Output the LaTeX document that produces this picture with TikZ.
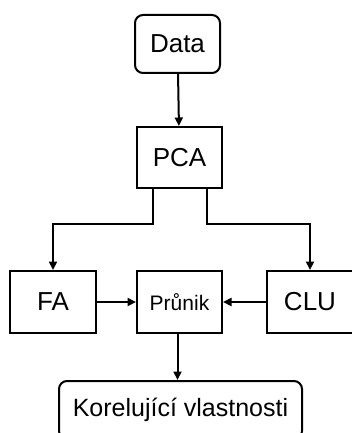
\documentclass[tikz,border=0pt]{standalone}
\usepackage{fontspec}
\setmainfont{Liberation Sans}
\usetikzlibrary{arrows.meta}
\tikzset{
  block/.style={draw,line width=2pt,minimum width=85pt,minimum height=61pt,
    inner sep=0pt,font=\fontsize{26}{30}\selectfont},
  term/.style={block,rounded corners=8pt},
  link/.style={line width=2pt,-{Triangle[length=8.5pt,width=8pt]}}
}
\begin{document}
\begin{tikzpicture}[x=1pt,y=-1pt]
    \useasboundingbox (0,0) rectangle (352,433);
    \node[term,minimum height=58pt] (data) at (177.5,44) {Data};
    \node[block] (pca) at (179.5,157.5) {PCA};
    \node[block,minimum width=86pt,minimum height=62pt] (fa) at (53,302) {FA};
    \node[block,minimum height=62pt,font=\fontsize{21}{25}\selectfont] (prunik) at (179.5,302) {Průnik};
    \node[block,minimum width=86pt,minimum height=62pt] (clu) at (310,302) {CLU};
    \node[term,minimum width=243pt,minimum height=58pt,font=\fontsize{25}{30}\selectfont] (korel) at (180.5,410) {Korelující vlastnosti};
    \draw[link] (data) -- (pca);
    \draw[link] ([xshift=-26.5pt]pca.south) -- ++(0,35) -| (fa.north);
    \draw[link] ([xshift=27.5pt]pca.south) -- ++(0,35) -| (clu.north);
    \draw[link] (fa) -- (prunik);
    \draw[link] (clu) -- (prunik);
    \draw[link] ([xshift=-2pt]prunik.south) -- ([xshift=-3pt]korel.north);
  \end{tikzpicture}
\end{document}
